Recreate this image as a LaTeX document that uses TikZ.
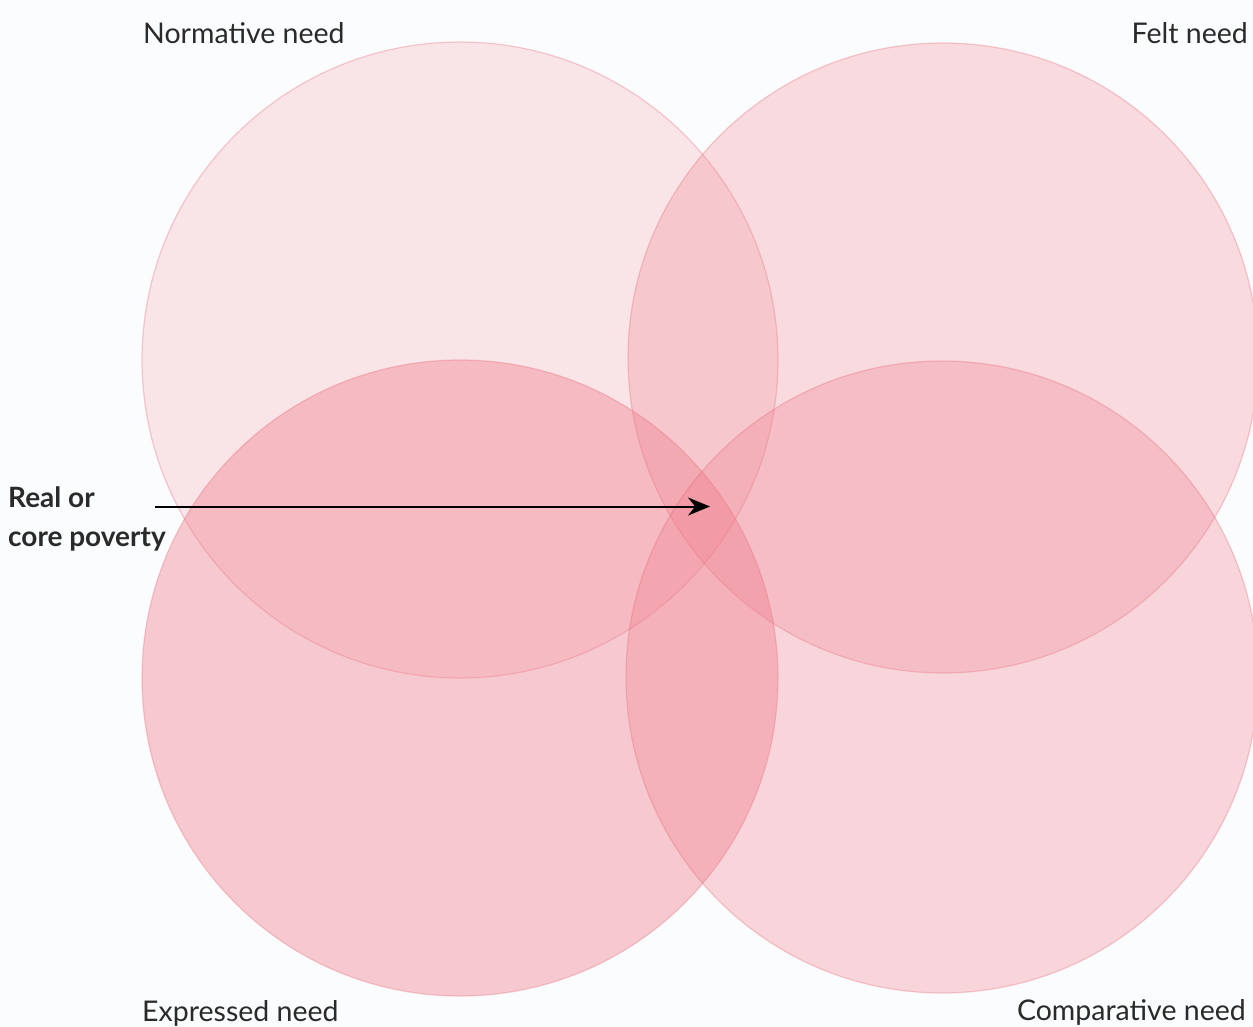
\documentclass[tikz,border=0pt]{standalone}
\usepackage{fontspec}
\setmainfont{Lato}
\usetikzlibrary{arrows.meta}
\definecolor{bg}{HTML}{FBFCFD}
\definecolor{pinkc}{HTML}{F07887}
\definecolor{edgec}{HTML}{E8606F}
\definecolor{txt}{HTML}{2A2A2A}
\tikzset{
  circ/.style={fill=pinkc, draw=edgec, line width=1.2pt, draw opacity=0.3},
  lab/.style={font=\fontsize{28.5}{34}\selectfont, text=txt, inner sep=0pt},
}
\begin{document}
\begin{tikzpicture}[x=1pt,y=-1pt]
\fill[bg] (0,0) rectangle (1253,1027);
\useasboundingbox (0,0) rectangle (1253,1027);
\begin{scope}
\clip (0,0) rectangle (1253,1027);
\path[circ, fill opacity=0.18] (460,360) circle (318) coordinate (nc);
\path[circ, fill opacity=0.25] (943,358) circle (315) coordinate (fc);
\path[circ, fill opacity=0.38] (460,678) circle (318) coordinate (ec);
\path[circ, fill opacity=0.29] (942,677) circle (316) coordinate (cc);
\end{scope}
\node[lab, anchor=west] (norm) at (143,33) {Normative need};
\node[lab, anchor=east] (felt) at (1248,33) {Felt need};
\node[lab, anchor=west] (expr) at (142,1013) {Expressed need};
\node[lab, anchor=east] (comp) at (1246,1012) {Comparative need};
\node[lab, anchor=north west, align=left, font=\fontsize{28}{39}\selectfont\bfseries] (real) at (8,486) {Real or\\core poverty};
\coordinate (start) at (155,506.5);
\coordinate (core) at (710,506.5);
\draw[line width=2pt, -{Stealth[length=22pt,width=18pt]}] (start) -- (core);
\end{tikzpicture}
\end{document}
